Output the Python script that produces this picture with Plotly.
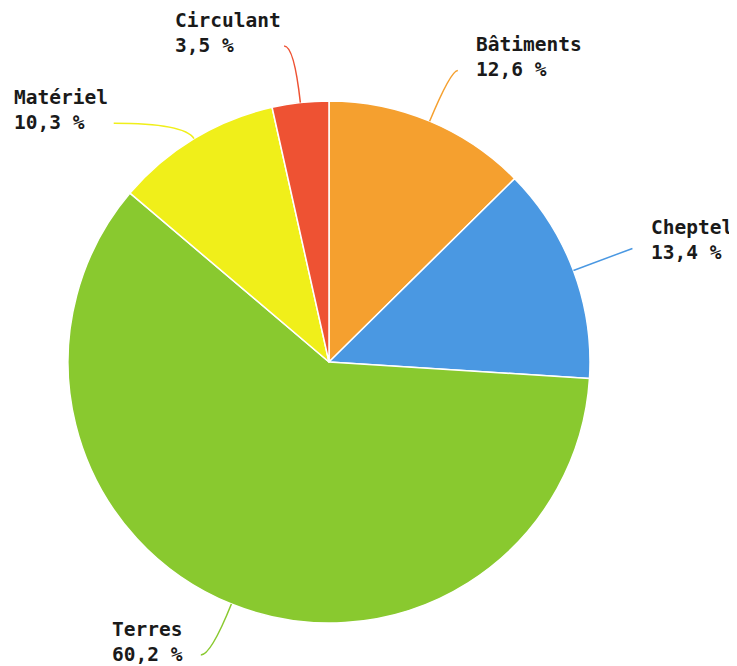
import math
import plotly.graph_objects as go

# ---- data ----
categories = ["Bâtiments", "Cheptel", "Terres", "Matériel", "Circulant"]
values = [12.6, 13.4, 60.2, 10.3, 3.5]
value_labels = ["12,6 %", "13,4 %", "60,2 %", "10,3 %", "3,5 %"]
colors = ["#F5A02F", "#4A98E2", "#89C92F", "#F0EF1A", "#EE5233"]

# ---- label layout (style) ----
line_len = [55, 63, 55, 18, 57]        # radial part of leader line
line_dx = [7, 0, -10, -71, -10]        # horizontal tail of leader line
text_gap = [16, 17, -16, -4, -1]       # gap between line end and text block
text_dy = [0, 5, 0, 0, 0]              # small vertical nudges of text blocks

OFF = 8  # page body margin
W, H = 737 - OFF, 666 - OFF
cx, cy, R = 329 - OFF, 362 - OFF, 261

fig = go.Figure()
fig.add_trace(go.Pie(
    labels=categories, values=values, sort=False, direction="clockwise",
    rotation=0, marker=dict(colors=colors, line=dict(color="white", width=1.5)),
    textinfo="none", hoverinfo="label+percent", showlegend=False,
    domain=dict(x=[(cx - R) / W, (cx + R) / W],
                y=[(H - cy - R) / H, (H - cy + R) / H]),
))

total = sum(values)
cum = 0
shapes, annotations = [], []
for i, v in enumerate(values):
    th = 2 * math.pi * (cum + v / 2) / total
    cum += v
    dx, dy = math.sin(th), -math.cos(th)
    x0, y0 = cx + R * dx, cy + R * dy
    x1, y1 = cx + (R + line_len[i]) * dx, cy + (R + line_len[i]) * dy
    x2, y2 = x1 + line_dx[i], y1
    shapes.append(dict(
        type="path", xref="x", yref="y",
        path=f"M {x0:.2f},{y0:.2f} Q {x1:.2f},{y1:.2f} {x2:.2f},{y2:.2f}",
        line=dict(color=colors[i], width=1.5),
    ))
    right = line_dx[i] > 0 or (line_dx[i] == 0 and dx > 0)
    annotations.append(dict(
        xref="x", yref="y", x=x2 + text_gap[i], y=y2 - 13 + text_dy[i],
        text=f"{categories[i]}<br>{value_labels[i]}",
        showarrow=False, xanchor="left" if right else "right", yanchor="middle",
        align="left",
        font=dict(family="DejaVu Sans Mono", size=19.5, color="#1a1a1a", weight="bold"),
    ))

fig.update_layout(
    width=W, height=H, margin=dict(l=0, r=0, t=0, b=0),
    paper_bgcolor="white", plot_bgcolor="rgba(0,0,0,0)",
    xaxis=dict(range=[0, W], visible=False, domain=[0, 1], fixedrange=True),
    yaxis=dict(range=[H, 0], visible=False, domain=[0, 1], fixedrange=True),
    shapes=shapes, annotations=annotations,
)
fig.write_html("out.html")
